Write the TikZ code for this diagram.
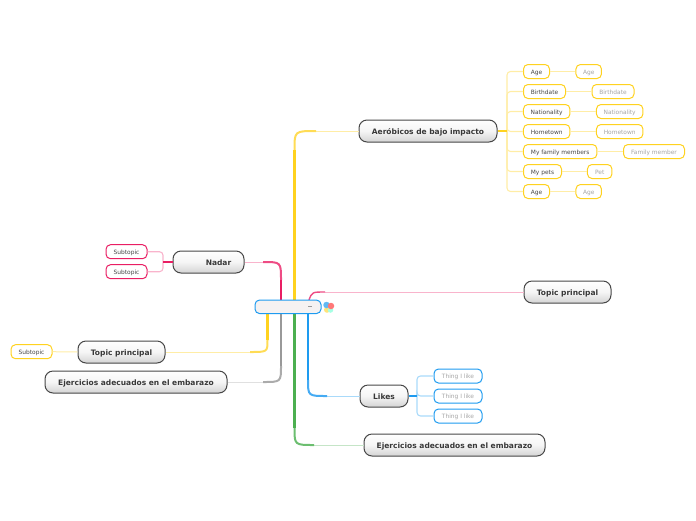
\documentclass[tikz,border=0pt]{standalone}
\usepackage{fontspec}
\setmainfont{DejaVu Sans}
\definecolor{cyel}{HTML}{FFD21F}
\definecolor{cyelm}{HTML}{FFDC55}
\definecolor{cyelp}{HTML}{FFEDA6}
\definecolor{cpink}{HTML}{E91E63}
\definecolor{cpinkm}{HTML}{EE4C84}
\definecolor{cpinkp}{HTML}{F9B4CC}
\definecolor{cblue}{HTML}{1E9BF0}
\definecolor{cbluem}{HTML}{45ABF3}
\definecolor{cbluep}{HTML}{A9DAFA}
\definecolor{cgreen}{HTML}{4CAF50}
\definecolor{cgreenm}{HTML}{6CBE70}
\definecolor{cgreenp}{HTML}{C5E5C7}
\definecolor{cgray}{HTML}{999999}
\definecolor{cgraym}{HTML}{ABABAB}
\definecolor{cgrayp}{HTML}{E0E0E0}
\definecolor{crootfill}{HTML}{F5F2F2}
\tikzset{
 topic/.style={draw=black!72,line width=1pt,rounded corners=8pt,top color=white,bottom color=black!17,middle color=black!4,
   minimum height=22pt,inner sep=0pt,text height=7pt,text depth=0pt,font=\fontsize{7.5}{9}\bfseries,text=black!78},
 sub/.style={draw=#1,fill=white,line width=1pt,rounded corners=4.5pt,minimum height=14pt,inner sep=0pt,
   text height=5pt,text depth=0pt,font=\fontsize{5.9}{7}\selectfont,text=black!72},
 kid/.style={draw=#1,fill=white,line width=1pt,rounded corners=4.5pt,minimum height=14pt,inner sep=0pt,
   text height=5pt,text depth=0pt,font=\fontsize{5.9}{7}\selectfont,text=black!35},
 trunk/.style={draw=#1,line width=2.8pt},
 bend/.style={draw=#1,line width=2pt},
 pale/.style={draw=#1,line width=1pt},
 bracket/.style={draw=#1,line width=1.1pt,rounded corners=3.5pt},
 stub/.style={draw=#1,line width=1.5pt},
 rootbox/.style={draw=cblue,fill=crootfill,line width=1pt,rounded corners=4.5pt,minimum width=66pt,minimum height=13.5pt,inner sep=0pt},
 dot/.style={circle,inner sep=0pt,minimum size=#1},
}
\begin{document}
\begin{tikzpicture}[x=1pt,y=-1pt]
\useasboundingbox (0,0) rectangle (696,520);
% trunk start, bend start, and bend end coordinates
\coordinate (tYel) at (294.5,300);  \coordinate (sYel) at (294.5,150);  \coordinate (bYel) at (316,131);
\coordinate (cYel) at (294.5,131);
\coordinate (tPinkL) at (281,300);  \coordinate (sPinkL) at (281,280);  \coordinate (bPinkL) at (263,262);
\coordinate (cPinkL) at (281,262);
\coordinate (tPinkR) at (309,300);  \coordinate (bPinkR) at (325,292);  \coordinate (cPinkR) at (312,292);
\coordinate (tYelL) at (267.5,314); \coordinate (sYelL) at (267.5,340); \coordinate (bYelL) at (250,352);
\coordinate (cYelL) at (267.5,352);
\coordinate (tGray) at (281,314);   \coordinate (sGray) at (281,366);   \coordinate (bGray) at (263,382);
\coordinate (cGray) at (281,382);
\coordinate (tGreen) at (294.5,314);\coordinate (sGreen) at (294.5,428);\coordinate (bGreen) at (314,445);
\coordinate (cGreen) at (294.5,445);
\coordinate (tBlue) at (308,314);   \coordinate (sBlue) at (308,380);   \coordinate (bBlue) at (327,396);
\coordinate (cBlue) at (308,396);
\coordinate (jA) at (507,131);
\coordinate (jN) at (163,262);
\coordinate (jL) at (417,396);
% topics
\node[topic,minimum width=138pt] (aero) at (428,131) {Aeróbicos de bajo impacto};
\node[topic,minimum width=87pt] (tpR) at (567.5,292) {Topic principal};
\node[topic,minimum width=48pt] (likes) at (384,396) {Likes};
\node[topic,minimum width=181pt] (ejR) at (454.5,445) {Ejercicios adecuados en el embarazo};
\node[topic,minimum width=71pt] (nadar) at (208.5,262) {\hspace*{20pt}Nadar};
\node[topic,minimum width=87pt] (tpL) at (121.5,352) {Topic principal};
\node[topic,minimum width=182pt] (ejL) at (136,382) {Ejercicios adecuados en el embarazo};
% right list
\node[sub=cyel,minimum width=26pt] (a1) at (536.5,71.5) {Age};
\node[kid=cyel,minimum width=25.5pt] (k1) at (588.7,71.5) {Age};
\node[sub=cyel,minimum width=42pt] (a2) at (544.5,91.5) {Birthdate};
\node[kid=cyel,minimum width=42pt] (k2) at (613,91.5) {Birthdate};
\node[sub=cyel,minimum width=46.5pt] (a3) at (546.7,111.5) {Nationality};
\node[kid=cyel,minimum width=46.5pt] (k3) at (619.7,111.5) {Nationality};
\node[sub=cyel,minimum width=46.5pt] (a4) at (546.7,131.5) {Hometown};
\node[kid=cyel,minimum width=46.5pt] (k4) at (619.7,131.5) {Hometown};
\node[sub=cyel,minimum width=73.5pt] (a5) at (560.2,151.5) {My family members};
\node[kid=cyel,minimum width=61pt] (k5) at (654,151.5) {Family member};
\node[sub=cyel,minimum width=38pt] (a6) at (542.5,171.5) {My pets};
\node[kid=cyel,minimum width=24.5pt] (k6) at (599.7,171.5) {Pet};
\node[sub=cyel,minimum width=26pt] (a7) at (536.5,191.5) {Age};
\node[kid=cyel,minimum width=25.5pt] (k7) at (588.7,191.5) {Age};
% left subtopics
\node[sub=cpink,minimum width=41pt] (n1) at (126.5,251.7) {Subtopic};
\node[sub=cpink,minimum width=41pt] (n2) at (126.5,271.7) {Subtopic};
\node[sub=cyel,minimum width=41pt] (s1) at (31.5,351.7) {Subtopic};
% likes children
\node[kid=cblue,minimum width=48pt] (l1) at (458,376) {Thing I like};
\node[kid=cblue,minimum width=48pt] (l2) at (458,396) {Thing I like};
\node[kid=cblue,minimum width=48pt] (l3) at (458,416) {Thing I like};
% main connectors: pale run, bend, thick trunk
\draw[pale=cyelp] (bYel) -- (aero.west);
\draw[bend=cyelm] (sYel) .. controls (cYel) .. (bYel);
\draw[trunk=cyel] (tYel) -- (sYel);
\draw[pale=cpinkp] (bPinkL) -- (nadar.east);
\draw[bend=cpinkm] (sPinkL) .. controls (cPinkL) .. (bPinkL);
\draw[trunk=cpink] (tPinkL) -- (sPinkL);
\draw[pale=cpinkp] (bPinkR) -- (tpR.west);
\draw[draw=cpinkm,line width=1.4pt] (tPinkR) .. controls (cPinkR) .. (bPinkR);
\draw[pale=cyelp] (bYelL) -- (tpL.east);
\draw[bend=cyelm] (sYelL) .. controls (cYelL) .. (bYelL);
\draw[trunk=cyel] (tYelL) -- (sYelL);
\draw[pale=cgrayp] (bGray) -- (ejL.east);
\draw[bend=cgraym] (sGray) .. controls (cGray) .. (bGray);
\draw[trunk=cgray] (tGray) -- (sGray);
\draw[pale=cgreenp] (bGreen) -- (ejR.west);
\draw[bend=cgreenm] (sGreen) .. controls (cGreen) .. (bGreen);
\draw[trunk=cgreen] (tGreen) -- (sGreen);
\draw[pale=cbluep] (bBlue) -- (likes.west);
\draw[bend=cbluem] (sBlue) .. controls (cBlue) .. (bBlue);
\draw[trunk=cblue] (tBlue) -- (sBlue);
% right bracket
\foreach \n in {a1,a2,a3,a4,a5,a6,a7}{\draw[bracket=cyelp] (jA) |- (\n.west);}
\draw[stub=cyel] (aero.east) -- (jA);
\foreach \p/\c in {a1/k1,a2/k2,a3/k3,a4/k4,a5/k5,a6/k6,a7/k7}{\draw[pale=cyelp] (\p.east) -- (\c.west);}
% Nadar bracket
\foreach \n in {n1,n2}{\draw[bracket=cpinkp] (jN) |- (\n.east);}
\draw[stub=cpink] (nadar.west) -- (jN);
\draw[pale=cyelp] (s1.east) -- (tpL.west);
% Likes bracket
\foreach \n in {l1,l2,l3}{\draw[bracket=cbluep] (jL) |- (\n.west);}
\draw[stub=cblue] (likes.east) -- (jL);
% root
\node[rootbox] (root) at (288,306.8) {};
\coordinate (rdA) at (308,306.5);
\coordinate (rdB) at (312,306.5);
\draw[black!40,line width=.6pt] (rdA) -- (rdB);
% icon
\node[dot=6pt,fill=cyel!60] (icY) at (327,309.8) {};
\node[dot=5.5pt,fill=green!30!cyan!35] (icT) at (330.5,310) {};
\node[dot=6.5pt,fill=cblue!70] (icB) at (326.5,305) {};
\node[dot=6.5pt,fill=red!50!pink!85] (icP) at (331,306) {};
\end{tikzpicture}
\end{document}
